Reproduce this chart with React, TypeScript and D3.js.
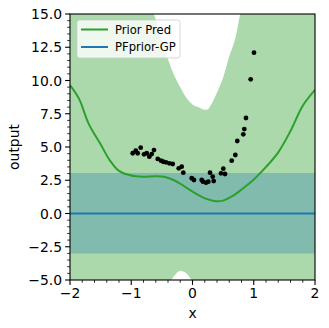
import React from "react";
import * as d3 from "d3";

// prior predictive mean (green line)
const meanX = [-2, -1.85, -1.7, -1.5, -1.35, -1.2, -1.0, -0.8, -0.6, -0.45, -0.3, -0.15, 0, 0.15, 0.3, 0.4, 0.5, 0.65, 0.8, 1.0, 1.2, 1.4, 1.6, 1.8, 2.0];
const meanY = [9.65, 8.6, 6.8, 5.2, 4.0, 3.2, 2.85, 2.77, 2.8, 2.75, 2.5, 2.1, 1.65, 1.25, 1.0, 0.93, 0.97, 1.3, 1.8, 2.55, 3.5, 4.6, 6.2, 8.1, 9.3];

// prior predictive band (green fill)
const bandX = [-2, -1.5, -1, -0.75, -0.6, -0.5, -0.4, -0.3, -0.2, -0.1, 0, 0.1, 0.2, 0.25, 0.3, 0.4, 0.5, 0.6, 0.7, 0.8, 1, 1.5, 2];
const bandUpper = [22, 20, 18, 16.2, 14.6, 13.1, 11.6, 10.4, 9.5, 8.7, 8.2, 7.98, 7.8, 7.82, 8.15, 9.1, 10.2, 11.8, 13.2, 15.5, 18, 20, 22];
const bandLower = [-10, -9, -8, -7, -6.3, -5.9, -5.4, -4.7, -4.3, -4.5, -5.1, -5.6, -6, -6.1, -6.2, -6.4, -6.5, -6.8, -7, -7.3, -8, -9, -10];

// PFprior-GP (blue)
const pfX = [-2, 2];
const pfMean = [0, 0];
const pfUpper = [3.05, 3.05];
const pfLower = [-3.0, -3.0];

// observations
const obsX = [-0.976, -0.927, -0.895, -0.846, -0.792, -0.748, -0.705, -0.666, -0.629, -0.568, -0.514, -0.477, -0.433, -0.379, -0.323, -0.225, -0.176, -0.15, -0.013, 0.024, 0.15, 0.171, 0.22, 0.258, 0.286, 0.33, 0.346, 0.465, 0.503, 0.531, 0.64, 0.699, 0.731, 0.829, 0.846, 0.873, 0.95, 1.004];
const obsY = [4.53, 4.72, 4.53, 4.95, 4.45, 4.53, 4.27, 4.47, 4.77, 4.1, 3.97, 3.89, 3.85, 3.77, 3.72, 3.4, 3.52, 3.07, 2.65, 2.52, 2.52, 2.39, 2.32, 2.39, 3.07, 2.77, 2.44, 3.02, 3.37, 2.97, 3.97, 4.4, 5.45, 5.95, 6.35, 7.18, 10.09, 12.09];

const xTicks = [-2, -1, 0, 1, 2];
const yTicks = [-5, -2.5, 0, 2.5, 5, 7.5, 10, 12.5, 15];

const GREEN = "#2ca02c";
const BLUE = "#1f77b4";
const FONT = "DejaVu Sans";

export default function App() {
  const W = 329;
  const H = 328;
  const m = { left: 70, right: 315, top: 14, bottom: 280 };

  const x = d3.scaleLinear().domain([-2, 2]).range([m.left, m.right]);
  const y = d3.scaleLinear().domain([-5, 15]).range([m.bottom, m.top]);

  const area = d3
    .area<number>()
    .x((i) => x(bandX[i]))
    .y0((i) => y(bandLower[i]))
    .y1((i) => y(bandUpper[i]))
    .curve(d3.curveMonotoneX);
  const pfArea = d3
    .area<number>()
    .x((i) => x(pfX[i]))
    .y0((i) => y(pfLower[i]))
    .y1((i) => y(pfUpper[i]));
  const meanLine = d3
    .line<number>()
    .x((i) => x(meanX[i]))
    .y((i) => y(meanY[i]))
    .curve(d3.curveCatmullRom);
  const pfLine = d3
    .line<number>()
    .x((i) => x(pfX[i]))
    .y((i) => y(pfMean[i]));

  const xMinor = d3.range(-2, 2.001, 0.2).filter((v) => Math.abs(v - Math.round(v)) > 1e-6);
  const yMinor = d3.range(-5, 15.001, 0.5).filter((v) => Math.abs(v / 2.5 - Math.round(v / 2.5)) > 1e-6);
  const fmtY = d3.format(".1f");
  const fmtX = d3.format("d");

  return (
    <svg width={W} height={H} style={{ position: "absolute", left: 0, top: 0 }} fontFamily={FONT}>
      <defs>
        <clipPath id="plot">
          <rect x={m.left} y={m.top} width={m.right - m.left} height={m.bottom - m.top} />
        </clipPath>
      </defs>
      <rect width={W} height={H} fill="white" />
      <g clipPath="url(#plot)">
        <path d={area(d3.range(bandX.length)) ?? ""} fill={GREEN} fillOpacity={0.4} />
        <path d={pfArea(d3.range(pfX.length)) ?? ""} fill={BLUE} fillOpacity={0.3} />
        <path d={meanLine(d3.range(meanX.length)) ?? ""} fill="none" stroke={GREEN} strokeWidth={2} />
        <path d={pfLine(d3.range(pfX.length)) ?? ""} fill="none" stroke={BLUE} strokeWidth={2} />
        {obsX.map((v, i) => (
          <circle key={i} cx={x(v)} cy={y(obsY[i])} r={2.4} fill="black" />
        ))}
      </g>

      {/* spines */}
      <rect x={m.left} y={m.top} width={m.right - m.left} height={m.bottom - m.top} fill="none" stroke="black" strokeWidth={1.1} />

      {/* x axis */}
      {xTicks.map((t) => (
        <g key={"x" + t}>
          <line x1={x(t)} x2={x(t)} y1={m.bottom} y2={m.bottom + 4.9} stroke="black" strokeWidth={1.1} />
          <text x={x(t)} y={m.bottom + 18} textAnchor="middle" fontSize={13.9}>
            {fmtX(t)}
          </text>
        </g>
      ))}
      {xMinor.map((t, i) => (
        <line key={"xm" + i} x1={x(t)} x2={x(t)} y1={m.bottom} y2={m.bottom + 2.8} stroke="black" strokeWidth={0.8} />
      ))}
      <text x={(m.left + m.right) / 2} y={318} textAnchor="middle" fontSize={13.9}>
        x
      </text>

      {/* y axis */}
      {yTicks.map((t) => (
        <g key={"y" + t}>
          <line x1={m.left - 4.9} x2={m.left} y1={y(t)} y2={y(t)} stroke="black" strokeWidth={1.1} />
          <text x={m.left - 8} y={y(t) + 5} textAnchor="end" fontSize={13.9}>
            {fmtY(t)}
          </text>
        </g>
      ))}
      {yMinor.map((t, i) => (
        <line key={"ym" + i} x1={m.left - 2.8} x2={m.left} y1={y(t)} y2={y(t)} stroke="black" strokeWidth={0.8} />
      ))}
      <text
        transform={`translate(19,${(m.top + m.bottom) / 2}) rotate(-90)`}
        textAnchor="middle"
        fontSize={13.9}
      >
        output
      </text>

      {/* legend */}
      <g transform="translate(77,20)">
        <rect width={103} height={38} rx={2.5} fill="white" fillOpacity={0.8} stroke="#cccccc" strokeOpacity={0.8} strokeWidth={1} />
        <line x1={4} x2={31} y1={9.5} y2={9.5} stroke={GREEN} strokeWidth={2} />
        <text x={38} y={13.5} fontSize={11.6}>
          Prior Pred
        </text>
        <line x1={4} x2={31} y1={27} y2={27} stroke={BLUE} strokeWidth={2} />
        <text x={38} y={31} fontSize={11.6}>
          PFprior-GP
        </text>
      </g>
    </svg>
  );
}
